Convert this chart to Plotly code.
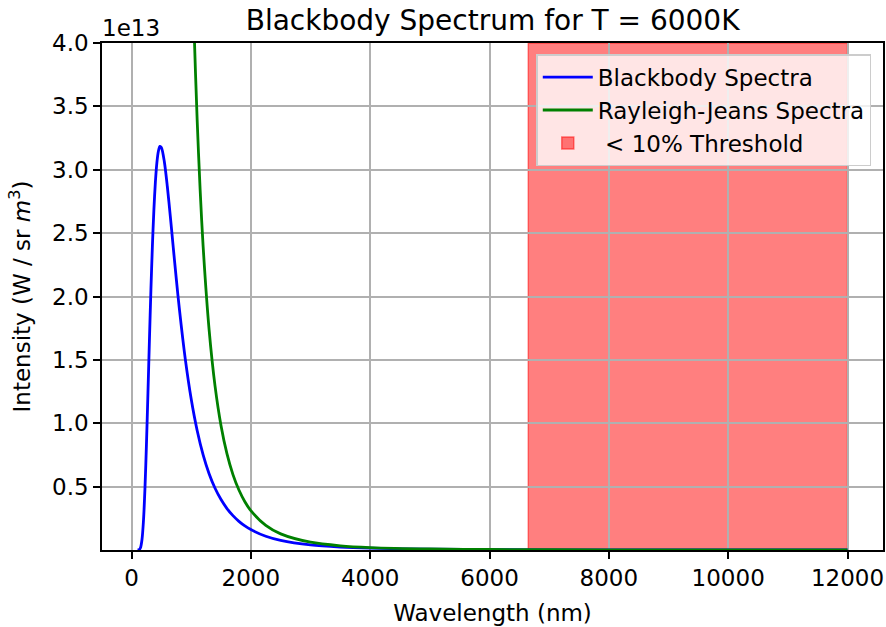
import plotly.graph_objects as go

# Wavelength samples (nm) and intensities in units of 1e13 W / sr m^3
bb_wavelength = [100, 125, 150, 175, 200, 225, 250, 275, 300, 325, 350, 375, 400, 425, 450, 475,
                 500, 550, 600, 650, 700, 750, 800, 900, 1000, 1100, 1200, 1300, 1400, 1500,
                 1600, 1700, 1800, 1900, 2000, 2250, 2500, 3000, 3500, 4000, 5000, 6000, 8000,
                 10000, 12000]
bb_intensity = [0.0000, 0.0018, 0.0179, 0.0812, 0.231, 0.486, 0.833, 1.237, 1.657, 2.054, 2.403,
                2.687, 2.905, 3.057, 3.146, 3.184, 3.176, 3.063, 2.868, 2.632, 2.383, 2.140, 1.910,
                1.510, 1.191, 0.943, 0.751, 0.602, 0.487, 0.398, 0.327, 0.271, 0.226, 0.190, 0.161,
                0.1085, 0.0758, 0.0401, 0.0231, 0.0142, 0.0062, 0.0031, 0.0010, 0.0004, 0.0002]

rj_wavelength = [1000, 1050, 1100, 1150, 1200, 1300, 1400, 1500, 1600, 1700, 1800, 1900, 2000,
                 2250, 2500, 3000, 3500, 4000, 5000, 6000, 8000, 10000, 12000]
rj_intensity = [4.967, 4.086, 3.392, 2.840, 2.395, 1.739, 1.293, 0.981, 0.758, 0.595, 0.473, 0.381,
                0.310, 0.194, 0.127, 0.0613, 0.0331, 0.0194, 0.0079, 0.0038, 0.0012, 0.0005, 0.0002]

threshold_range = [6650, 12000]

x_ticks = [0, 2000, 4000, 6000, 8000, 10000, 12000]
y_ticks = [0.5, 1.0, 1.5, 2.0, 2.5, 3.0, 3.5, 4.0]
x_range = [-495, 12595]
y_range = [0, 4.0]

FONT = "DejaVu Sans"
FS = 23

fig = go.Figure()
fig.add_trace(go.Scatter(x=bb_wavelength, y=bb_intensity, mode="lines",
                         line=dict(color="#0000ff", width=2.8, shape="spline", smoothing=0.8),
                         name="Blackbody Spectra", legendrank=1))
fig.add_trace(go.Scatter(x=rj_wavelength, y=rj_intensity, mode="lines",
                         line=dict(color="#008000", width=2.8, shape="spline", smoothing=0.8),
                         name="Rayleigh-Jeans Spectra", legendrank=2))

fig.add_shape(type="rect", xref="x", yref="y domain",
              x0=threshold_range[0], x1=threshold_range[1], y0=0, y1=1,
              fillcolor="rgba(255,0,0,0.5)", line=dict(color="rgba(255,0,0,0.5)", width=1.5),
              layer="below", showlegend=True, name=" < 10% Threshold", legendrank=3)

axis_common = dict(showline=True, linecolor="black", linewidth=1.5, mirror=True,
                   ticks="outside", ticklen=7, tickwidth=1.5, tickcolor="black",
                   showgrid=True, gridcolor="#b0b0b0", gridwidth=1.5, zeroline=False,
                   automargin=False,
                   tickfont=dict(family=FONT, size=FS, color="black"))

fig.update_xaxes(range=x_range, tickvals=x_ticks, tickformat="d",
                 title=dict(text="Wavelength (nm)", font=dict(family=FONT, size=FS, color="black")),
                 **axis_common)
fig.update_yaxes(range=y_range, tickvals=y_ticks, tickformat=".1f",
                 title=dict(text="Intensity (W / sr <i>m</i><sup>3</sup>)",
                            font=dict(family=FONT, size=FS, color="black")),
                 **axis_common)

fig.add_annotation(text="1e13", xref="paper", yref="paper", x=0, y=1, xanchor="left",
                   yanchor="bottom", showarrow=False, font=dict(family=FONT, size=FS, color="black"),
                   xshift=-2, yshift=0)

fig.update_layout(
    width=886, height=627,
    margin=dict(l=102, r=3, t=43, b=77),
    paper_bgcolor="white", plot_bgcolor="white",
    title=dict(text="Blackbody Spectrum for T = 6000K", x=0.556, xanchor="center",
               y=0.968, yanchor="middle", font=dict(family=FONT, size=28, color="black")),
    showlegend=True,
    legend=dict(x=0.985, y=0.978, xanchor="right", yanchor="top",
                bgcolor="rgba(255,255,255,0.8)", bordercolor="#cccccc", borderwidth=1.5,
                font=dict(family=FONT, size=FS, color="black"), itemwidth=50),
)

fig.write_html("out.html", post_script="document.body.style.margin='0';",
               config={"displayModeBar": False})
